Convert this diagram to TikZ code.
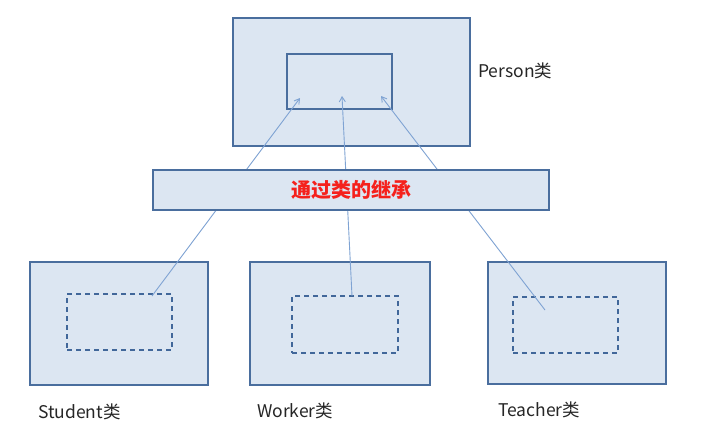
\documentclass[tikz,border=0pt]{standalone}
\usepackage{fontspec}
\setmainfont{Noto Sans CJK SC}
\usetikzlibrary{arrows.meta}
\definecolor{boxfill}{HTML}{DCE6F2}
\definecolor{boxdraw}{HTML}{4A6E9E}
\definecolor{dashdraw}{HTML}{41679A}
\definecolor{linkcol}{HTML}{7FA3D3}
\definecolor{redtxt}{HTML}{F5211C}
\begin{document}
\begin{tikzpicture}[x=1pt,y=-1pt,
  classbox/.style={draw=boxdraw, fill=boxfill, line width=1.6pt, inner sep=0pt},
  innerbox/.style={draw=boxdraw, line width=1.6pt, inner sep=0pt},
  dashbox/.style={draw=dashdraw, line width=1.5pt, dash pattern=on 5pt off 4pt, inner sep=0pt},
  link/.style={draw=linkcol, line width=0.9pt, -{Straight Barb[length=5pt,width=6pt]}},
  lbl/.style={anchor=west, font=\fontsize{17.5}{20}\selectfont, text=black!85, inner sep=0pt}]
\useasboundingbox (0,0) rectangle (703,442);
\fill[white] (0,0) rectangle (703,442);
% Person
\node[classbox, minimum width=237pt, minimum height=128pt] (person) at (351.5,82) {};
\node[innerbox, minimum width=105pt, minimum height=55pt] (pin) at (339.5,81.5) {};
\node[lbl] (plabel) at (478,71) {Person类};
% children
\node[classbox, minimum width=178pt, minimum height=123pt] (student) at (119,323.5) {};
\node[dashbox, minimum width=105pt, minimum height=56pt] (sin) at (119.5,322) {};
\node[classbox, minimum width=180pt, minimum height=123pt] (worker) at (340,323.5) {};
\node[dashbox, minimum width=106pt, minimum height=57pt] (win) at (345,324.5) {};
\node[classbox, minimum width=178pt, minimum height=122pt] (teacher) at (577,323) {};
\node[dashbox, minimum width=105pt, minimum height=56pt] (tin) at (565.5,325) {};
\node[lbl] (slabel) at (38,412) {Student类};
\node[lbl] (wlabel) at (257,411) {Worker类};
\node[lbl] (tlabel) at (498,410) {Teacher类};
% connectors
\coordinate (s1) at (152,296);
\coordinate (s2) at (352,296);
\coordinate (s3) at (545,310);
\coordinate (e1) at (300,98);
\coordinate (e2) at (342,96);
\coordinate (e3) at (381,96);
\draw[link] (s1) -- (e1);
\draw[link] (s2) -- (e2);
\draw[link] (s3) -- (e3);
% band
\node[classbox, line width=1.4pt, minimum width=396pt, minimum height=40pt, text=redtxt, font=\bfseries\fontsize{20}{22}\selectfont] (band) at (351,190) {通过类的继承};
\end{tikzpicture}
\end{document}
